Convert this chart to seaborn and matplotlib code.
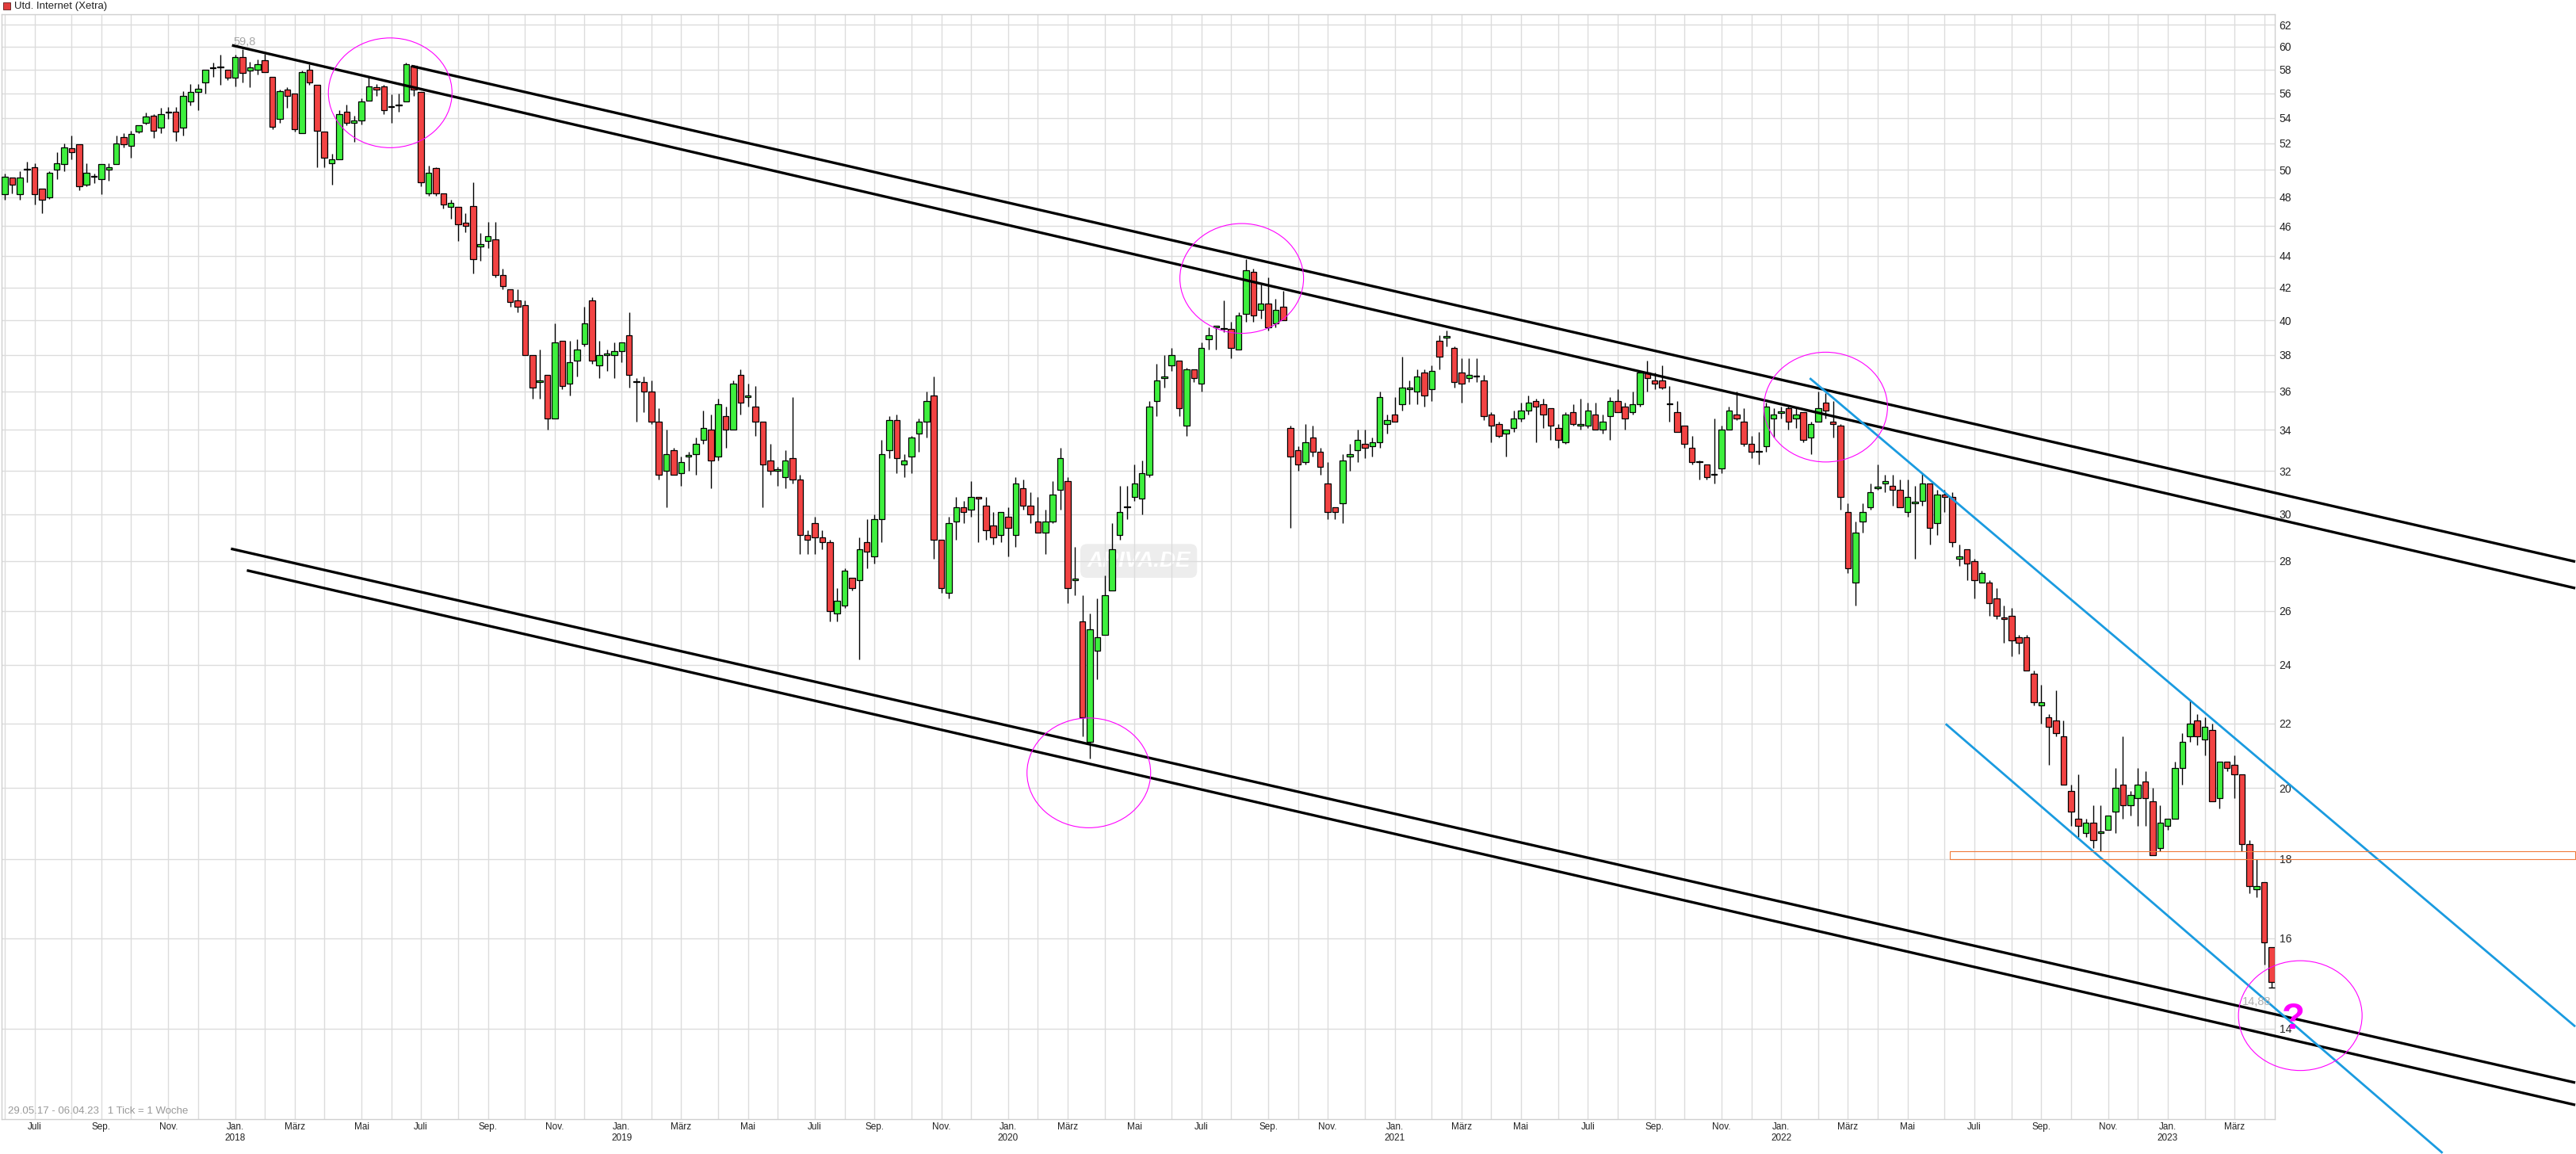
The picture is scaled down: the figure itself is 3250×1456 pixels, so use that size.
import numpy as np
import pandas as pd
import matplotlib
matplotlib.use("Agg")
import matplotlib.pyplot as plt
import matplotlib.dates as mdates
import matplotlib.transforms as mtransforms
from matplotlib.patches import Rectangle, Ellipse
from matplotlib.ticker import NullLocator
import seaborn as sns

# Style
sns.set_theme(style="whitegrid")
plt.rcParams['font.family'] = ['Liberation Sans Narrow', 'Liberation Sans', 'DejaVu Sans']

# === Weekly candles, Utd. Internet (Xetra), 29.05.17 - 06.04.23 ===
first_week = "2017-05-29"

opens = [
    48.2, 49.4, 48.2, 50.0, 50.2, 48.6, 48.0, 50.0, 50.4, 51.6,
    51.9, 48.9, 49.5, 49.3, 50.0, 50.4, 52.5, 51.8, 52.9, 53.6,
    54.2, 53.2, 54.4, 54.5, 53.2, 55.3, 56.1, 56.9, 58.1, 58.2,
    58.0, 57.3, 59.1, 57.9, 58.0, 58.8, 57.4, 53.9, 56.3, 56.0,
    52.8, 58.0, 56.7, 52.9, 50.5, 50.8, 54.5, 53.6, 53.8, 55.4,
    56.5, 56.6, 54.9, 55.0, 55.3, 58.3, 56.1, 48.3, 50.1, 48.3,
    47.3, 47.3, 46.2, 47.4, 44.6, 45.0, 45.1, 42.8, 41.9, 41.2,
    40.9, 38.0, 36.5, 36.9, 34.6, 38.8, 36.4, 37.7, 38.6, 41.2,
    37.4, 38.0, 38.0, 38.2, 39.1, 36.5, 36.5, 36.0, 34.4, 32.0,
    33.0, 31.9, 32.7, 32.8, 33.5, 34.0, 32.7, 34.7, 34.0, 36.9,
    35.7, 35.2, 34.4, 32.5, 32.0, 31.7, 32.6, 31.6, 29.1, 29.6,
    29.0, 28.8, 25.9, 26.2, 27.3, 27.2, 28.8, 28.2, 29.8, 33.0,
    34.5, 32.3, 32.7, 33.8, 34.4, 35.8, 28.9, 26.7, 29.7, 30.3,
    30.2, 30.8, 30.4, 29.5, 29.1, 29.9, 29.1, 31.2, 30.4, 29.7,
    29.2, 29.7, 31.1, 31.5, 27.2, 25.6, 21.4, 24.5, 25.1, 26.8,
    29.1, 30.3, 30.8, 30.7, 31.8, 35.5, 36.7, 37.4, 37.7, 34.2,
    37.2, 36.4, 38.9, 39.6, 39.5, 39.5, 38.3, 40.4, 43.0, 40.6,
    41.0, 39.8, 40.8, 34.1, 33.0, 32.4, 33.6, 32.9, 31.4, 30.3,
    30.5, 32.7, 33.0, 33.3, 33.2, 33.4, 34.3, 34.8, 35.3, 36.1,
    36.0, 37.0, 36.1, 38.8, 39.0, 38.4, 37.0, 36.7, 36.8, 36.6,
    34.8, 34.3, 33.8, 34.1, 34.6, 35.0, 35.5, 35.3, 35.1, 34.1,
    33.4, 34.9, 34.2, 34.2, 34.8, 34.0, 34.7, 35.5, 35.2, 34.9,
    35.3, 37.0, 36.6, 36.6, 35.3, 34.9, 34.2, 33.1, 32.4, 32.3,
    31.8, 32.1, 34.0, 34.8, 34.4, 33.3, 32.9, 33.2, 34.6, 34.85,
    35.1, 34.6, 34.9, 33.6, 34.4, 35.4, 34.4, 34.2, 30.1, 27.1,
    29.7, 30.3, 31.2, 31.4, 31.3, 31.1, 30.1, 30.5, 30.6, 31.4,
    29.6, 30.9, 30.8, 28.1, 28.5, 28.0, 27.1, 27.1, 26.5, 25.75,
    25.8, 25.0, 25.0, 23.7, 22.6, 22.2, 22.1, 21.6, 19.9, 19.1,
    18.7, 19.0, 18.7, 18.8, 19.3, 20.1, 19.5, 19.7, 20.2, 19.6,
    18.3, 18.9, 19.1, 20.6, 21.6, 22.1, 21.5, 21.8, 19.7, 20.8,
    20.7, 20.4, 18.4, 17.2, 17.4, 15.8,
]
highs = [
    49.7, 49.4, 49.9, 50.6, 50.5, 48.6, 49.9, 51.3, 52.0, 52.6,
    51.9, 50.5, 49.7, 50.4, 50.5, 52.6, 52.8, 53.0, 53.4, 54.4,
    54.3, 54.8, 54.9, 54.9, 56.2, 56.8, 56.8, 58.0, 58.6, 59.3,
    58.0, 59.3, 59.8, 58.7, 58.9, 59.4, 57.4, 56.3, 56.5, 56.0,
    57.9, 58.5, 56.7, 52.9, 51.2, 54.6, 55.1, 54.2, 55.6, 57.4,
    56.8, 56.7, 55.9, 56.0, 58.6, 58.4, 56.1, 50.3, 50.2, 48.3,
    47.8, 47.3, 46.9, 49.1, 45.5, 46.3, 46.3, 43.2, 41.9, 41.9,
    41.2, 38.0, 38.3, 36.9, 39.8, 38.8, 38.8, 38.9, 40.8, 41.4,
    38.8, 38.3, 38.7, 38.7, 40.5, 36.7, 36.8, 36.6, 35.1, 34.0,
    33.1, 32.7, 32.9, 33.6, 35.0, 34.8, 35.6, 35.2, 36.6, 37.2,
    36.4, 36.3, 34.4, 33.3, 32.2, 33.0, 35.7, 31.8, 29.3, 29.9,
    29.3, 28.9, 26.9, 27.7, 27.3, 29.0, 29.8, 30.0, 33.5, 34.7,
    34.8, 32.8, 33.7, 34.6, 36.0, 36.8, 28.9, 29.9, 30.8, 30.6,
    31.5, 30.8, 30.8, 30.1, 30.1, 30.3, 31.7, 31.6, 31.0, 30.8,
    30.2, 31.5, 33.1, 31.7, 28.6, 26.6, 25.9, 26.5, 27.4, 29.6,
    31.3, 31.3, 32.3, 32.5, 35.5, 37.5, 38.0, 38.4, 37.7, 37.3,
    37.2, 38.7, 39.6, 39.6, 41.2, 39.9, 40.5, 43.8, 43.2, 42.2,
    42.6, 41.3, 41.8, 34.2, 33.2, 34.3, 34.2, 33.1, 32.4, 30.3,
    32.8, 33.3, 34.0, 34.0, 33.6, 36.0, 34.8, 35.7, 37.9, 36.6,
    37.2, 37.2, 37.4, 39.1, 39.4, 38.5, 37.8, 37.8, 37.8, 36.9,
    34.9, 34.4, 34.0, 35.0, 35.4, 35.8, 35.6, 35.6, 35.1, 34.3,
    34.9, 35.3, 35.6, 35.4, 35.4, 34.8, 35.7, 36.1, 35.4, 36.0,
    37.1, 37.7, 37.0, 37.4, 36.3, 35.5, 34.2, 33.7, 32.5, 32.3,
    34.6, 34.2, 35.2, 36.0, 35.1, 33.7, 33.9, 35.4, 35.1, 35.2,
    35.2, 35.2, 34.9, 34.4, 36.0, 35.9, 35.5, 34.3, 30.5, 29.7,
    30.5, 31.4, 32.3, 31.8, 31.8, 31.6, 31.6, 31.3, 31.9, 31.4,
    31.1, 31.1, 31.0, 28.7, 28.5, 28.1, 27.6, 27.2, 26.9, 26.2,
    26.1, 25.1, 25.1, 23.8, 23.3, 22.3, 23.1, 22.1, 20.1, 20.4,
    19.1, 19.5, 19.5, 19.2, 20.6, 21.6, 19.9, 20.6, 20.5, 20.0,
    19.5, 19.1, 20.8, 21.7, 22.8, 22.3, 22.2, 22.0, 20.8, 20.8,
    21.0, 20.4, 18.5, 18.0, 17.4, 15.8,
]
lows = [
    47.8, 48.3, 47.8, 49.1, 47.5, 46.9, 47.9, 49.3, 49.9, 50.8,
    48.5, 48.8, 49.0, 48.2, 49.2, 50.4, 51.7, 50.9, 52.8, 53.5,
    52.4, 52.8, 53.9, 52.2, 52.6, 55.0, 54.6, 56.0, 57.4, 56.7,
    57.1, 56.6, 56.9, 56.5, 57.6, 57.8, 53.1, 53.6, 54.8, 52.9,
    52.8, 56.7, 50.2, 50.2, 48.9, 50.8, 53.4, 52.1, 53.5, 55.4,
    55.8, 54.3, 53.6, 54.5, 55.3, 55.8, 48.8, 48.1, 48.1, 47.2,
    46.5, 45.0, 45.6, 42.9, 43.7, 44.5, 42.6, 41.9, 40.8, 40.5,
    38.0, 35.6, 35.6, 34.0, 34.6, 36.1, 35.8, 36.8, 38.5, 37.5,
    36.7, 37.1, 36.7, 37.6, 36.2, 34.4, 34.9, 34.3, 31.6, 30.3,
    31.8, 31.3, 32.0, 31.8, 33.3, 31.2, 32.5, 33.1, 34.0, 34.8,
    35.2, 33.7, 30.3, 31.8, 31.3, 31.2, 31.4, 28.3, 28.3, 28.3,
    28.5, 25.6, 25.6, 26.1, 26.8, 24.2, 27.7, 27.9, 28.8, 32.6,
    31.9, 31.7, 31.9, 32.9, 33.6, 28.1, 26.7, 26.5, 28.9, 29.6,
    29.9, 28.8, 28.9, 28.7, 28.8, 28.2, 28.6, 30.2, 29.6, 29.2,
    28.3, 29.6, 30.2, 26.3, 26.6, 21.6, 20.9, 23.5, 25.1, 26.8,
    28.9, 29.8, 30.6, 30.0, 31.7, 34.7, 36.2, 37.1, 34.7, 33.7,
    36.5, 36.0, 38.3, 38.3, 39.3, 37.8, 38.3, 39.9, 39.9, 40.1,
    39.4, 39.6, 40.0, 29.4, 32.0, 32.3, 32.7, 31.8, 29.8, 29.8,
    29.6, 32.0, 32.4, 32.6, 32.7, 33.1, 33.8, 34.4, 35.0, 35.3,
    35.3, 35.2, 35.5, 37.2, 38.5, 36.2, 35.4, 36.5, 36.5, 34.5,
    33.4, 33.6, 32.7, 33.9, 34.4, 34.8, 33.4, 34.1, 33.5, 33.1,
    33.3, 34.2, 34.0, 34.1, 34.0, 33.8, 33.5, 34.9, 34.0, 34.8,
    35.2, 36.0, 36.1, 36.1, 34.4, 33.9, 33.1, 32.3, 31.6, 31.6,
    31.4, 31.9, 34.0, 34.5, 33.2, 32.6, 32.3, 32.9, 33.6, 34.6,
    34.0, 34.1, 33.4, 32.8, 34.4, 34.6, 33.6, 30.2, 27.5, 26.2,
    29.2, 30.2, 31.1, 31.0, 30.4, 30.3, 29.9, 28.1, 30.4, 28.7,
    29.1, 30.1, 28.6, 27.8, 27.2, 26.5, 27.1, 25.8, 25.7, 24.8,
    24.3, 24.4, 23.8, 22.6, 22.0, 20.7, 21.6, 20.1, 18.9, 18.6,
    18.6, 18.3, 18.2, 18.8, 18.7, 19.1, 19.2, 18.9, 18.9, 18.1,
    18.2, 18.8, 19.1, 20.1, 21.4, 21.3, 21.0, 19.6, 19.4, 20.5,
    19.7, 18.2, 17.1, 17.0, 15.4, 14.88,
]
closes = [
    49.5, 48.9, 49.4, 50.0, 48.2, 47.8, 49.8, 50.5, 51.7, 51.3,
    48.8, 49.8, 49.5, 50.4, 50.2, 52.0, 51.9, 52.7, 53.4, 54.1,
    53.0, 54.3, 54.4, 52.9, 55.8, 56.1, 56.4, 58.0, 58.2, 58.2,
    57.3, 59.1, 57.7, 58.2, 58.5, 57.8, 53.3, 56.2, 55.8, 53.1,
    57.8, 56.9, 53.0, 50.9, 50.8, 54.3, 53.6, 53.8, 55.3, 56.6,
    56.3, 54.6, 54.9, 55.0, 58.5, 56.3, 49.1, 49.8, 48.3, 47.5,
    47.6, 46.1, 46.0, 43.8, 44.8, 45.3, 42.8, 42.1, 41.1, 40.8,
    38.0, 36.2, 36.6, 34.6, 38.7, 36.3, 37.6, 38.3, 39.8, 37.7,
    38.0, 38.0, 38.2, 38.7, 36.9, 36.5, 36.0, 34.4, 31.8, 32.8,
    31.8, 32.4, 32.7, 33.3, 34.1, 32.5, 35.3, 34.0, 36.4, 35.4,
    35.7, 34.4, 32.3, 32.0, 32.0, 32.5, 31.6, 29.1, 28.9, 29.0,
    28.8, 26.0, 26.4, 27.6, 26.9, 28.5, 28.4, 29.8, 32.8, 34.5,
    32.6, 32.5, 33.6, 34.4, 35.5, 28.9, 26.9, 29.6, 30.3, 30.1,
    30.8, 30.7, 29.3, 29.0, 30.1, 29.4, 31.4, 30.4, 30.0, 29.2,
    29.7, 30.9, 32.6, 26.9, 27.2, 22.2, 25.3, 25.0, 26.6, 28.5,
    30.1, 30.3, 31.4, 31.9, 35.2, 36.6, 36.8, 38.0, 35.1, 37.2,
    36.7, 38.4, 39.1, 39.6, 39.5, 38.4, 40.3, 43.1, 40.3, 41.0,
    39.6, 40.6, 40.0, 32.7, 32.3, 33.4, 32.9, 32.2, 30.1, 30.1,
    32.5, 32.8, 33.5, 33.1, 33.4, 35.7, 34.5, 34.4, 36.2, 36.2,
    36.8, 35.8, 37.1, 37.9, 39.0, 36.5, 36.4, 36.9, 36.8, 34.7,
    34.2, 33.7, 34.0, 34.6, 35.0, 35.4, 35.2, 34.8, 34.2, 33.5,
    34.8, 34.3, 34.3, 35.0, 34.0, 34.4, 35.5, 34.9, 34.6, 35.3,
    37.0, 36.7, 36.4, 36.2, 35.3, 33.9, 33.3, 32.4, 32.4, 31.7,
    31.8, 34.0, 35.0, 34.6, 33.3, 32.9, 32.9, 35.2, 34.8, 34.95,
    34.4, 34.8, 33.5, 34.3, 35.1, 35.0, 34.3, 30.8, 27.7, 29.2,
    30.1, 31.0, 31.2, 31.5, 31.1, 30.3, 30.8, 30.5, 31.4, 29.4,
    30.9, 30.8, 28.8, 28.2, 27.9, 27.2, 27.5, 26.3, 25.8, 25.7,
    24.9, 24.8, 23.8, 22.7, 22.7, 21.9, 21.7, 20.1, 19.3, 18.9,
    19.0, 18.5, 18.7, 19.2, 20.0, 19.5, 19.8, 20.1, 19.7, 18.1,
    19.0, 19.1, 20.6, 21.4, 22.0, 21.6, 21.9, 19.6, 20.8, 20.6,
    20.4, 18.4, 17.3, 17.3, 15.9, 15.0,
]

# Y axis ticks (right side)
price_ticks = list(range(14, 63, 2))

# Drawn trend lines: (date, price) start and end
black_lines = [
    (("2018-06-16", 58.31), ("2024-01-14", 27.97)),
    (("2017-12-29", 60.13), ("2024-01-14", 26.89)),
    (("2017-12-28", 28.51), ("2024-01-14", 12.92)),
    (("2018-01-12", 27.61), ("2024-01-14", 12.50)),
]
blue_lines = [
    (("2022-01-23", 36.71), ("2024-01-14", 14.04)),
    (("2022-05-31", 21.99), ("2023-09-11", 11.64)),
]
circle_centers = [
    ("2018-05-27", 56.04),
    ("2020-08-06", 42.56),
    ("2020-03-15", 20.45),
    ("2022-02-07", 35.17),
    ("2023-04-30", 14.27),
]
zone_start, zone_end, zone_low, zone_high = "2022-06-04", "2024-01-14", 18.0, 18.21

GREEN = "#3ef03e"
RED = "#f24343"


def dnum(s):
    return mdates.date2num(pd.Timestamp(s))


o, h, l, c = (np.array(v, dtype=float) for v in (opens, highs, lows, closes))
weeks = pd.date_range(first_week, periods=len(o), freq="7D")
x = mdates.date2num(weeks)

fig = plt.figure(figsize=(32.5, 14.56), dpi=100)
ax = fig.add_axes([2 / 3250, 44 / 1456, 2868 / 3250, 1394 / 1456])
ax.set_yscale("log")
ax.set_xlim(x[0] - 0.43 * 7, x[0] + 305.43 * 7)
ax.set_ylim(12.24, 62.96)

# === Candles ===
ax.vlines(x, l, h, color="black", lw=1.0, zorder=2)
body_low = np.minimum(o, c)
body_h = np.maximum(np.abs(c - o), 0.06)
ax.bar(x, body_h, bottom=body_low, width=5.6, color=np.where(c >= o, GREEN, RED),
       edgecolor="black", linewidth=0.9, zorder=3)
ax.plot(x[-1], l[-1], marker="_", ms=6, mew=1.0, color="black", zorder=3)

ax.set_xlim(x[0] - 0.43 * 7, x[0] + 305.43 * 7)
ax.set_ylim(12.24, 62.96)

# === Axes styling ===
month_starts = pd.date_range("2017-06-01", "2023-04-01", freq="MS")
tick_weeks = month_starts - pd.to_timedelta(month_starts.weekday, unit="D")
month_names = {1: "Jan.", 3: "März", 5: "Mai", 7: "Juli", 9: "Sep.", 11: "Nov."}
month_labels = [f"Jan.\n{m.year}" if m.month == 1 else month_names.get(m.month, "")
                for m in month_starts]
ax.set_xticks(mdates.date2num(tick_weeks), month_labels)
ax.yaxis.tick_right()
ax.set_yticks(price_ticks, [str(p) for p in price_ticks])
ax.yaxis.set_minor_locator(NullLocator())
ax.tick_params(axis="x", length=0, pad=3, labelsize=8.5, labelcolor="#222222")
ax.tick_params(axis="y", which="both", length=0, pad=4, labelsize=10, labelcolor="#222222",
               labelfontfamily="Liberation Sans", left=False, labelleft=False,
               right=True, labelright=True)
ax.grid(True, color="#dcdcdc", lw=1.0)
ax.set_axisbelow(True)
for s in ax.spines.values():
    s.set_color("#cfcfcf")
    s.set_linewidth(1.0)

# watermark
ax.text(dnum("2020-05-01"), 28.0, "ARIVA.DE", ha="center", va="center", fontsize=20,
        fontstyle="italic", fontweight="bold", color="white", zorder=0.4,
        bbox=dict(boxstyle="round,pad=0.3", fc="#ededed", ec="none"))

# === Drawings ===
for (d0, p0), (d1, p1) in black_lines:
    ax.plot([dnum(d0), dnum(d1)], [p0, p1], color="black", lw=2.4, clip_on=False,
            zorder=4, solid_capstyle="butt")
for (d0, p0), (d1, p1) in blue_lines:
    ax.plot([dnum(d0), dnum(d1)], [p0, p1], color="#1a9be0", lw=2.0, clip_on=False,
            zorder=4, solid_capstyle="butt")

ax.add_patch(Rectangle((dnum(zone_start), zone_low), dnum(zone_end) - dnum(zone_start),
                       zone_high - zone_low, fill=False, ec="#f07a3a", lw=0.8,
                       clip_on=False, zorder=4))

for d, p in circle_centers:
    trans = fig.dpi_scale_trans + mtransforms.ScaledTranslation(dnum(d), p, ax.transData)
    ax.add_patch(Ellipse((0, 0), 1.56, 1.385, transform=trans, fill=False,
                         ec="#ff00ff", lw=0.8, clip_on=False, zorder=5))

ax.text(dnum("2023-04-23"), 14.0, "?", ha="center", va="baseline", fontsize=34,
        fontweight="bold", color="#ff00ff", family="Liberation Sans", zorder=6)
ax.text(dnum("2017-12-30"), 60.11, "59,8", ha="left", va="baseline", fontsize=10.5,
        color="#a8a8a8", zorder=6)
ax.text(dnum("2023-03-06"), 14.50, "14,88", ha="left", va="baseline", fontsize=10.5,
        color="#b0b0b0", zorder=6)

# === Header / footer ===
fig.add_artist(Rectangle((3.6 / 3250, 1 - 11.7 / 1456), 9 / 3250, 9 / 1456,
                         transform=fig.transFigure, fc="#e23c3c", ec="#5a1a1a", lw=0.6))
fig.text(17.9 / 3250, 1 - 7.5 / 1456, "Utd. Internet (Xetra)", ha="left", va="center",
         fontsize=9.5, color="#222222")
fig.text(9.8 / 3250, 51 / 1456, "29.05.17 - 06.04.23   1 Tick = 1 Woche", ha="left",
         va="baseline", fontsize=9.5, color="#999999")

plt.savefig("out.png", dpi=100)
plt.close()
